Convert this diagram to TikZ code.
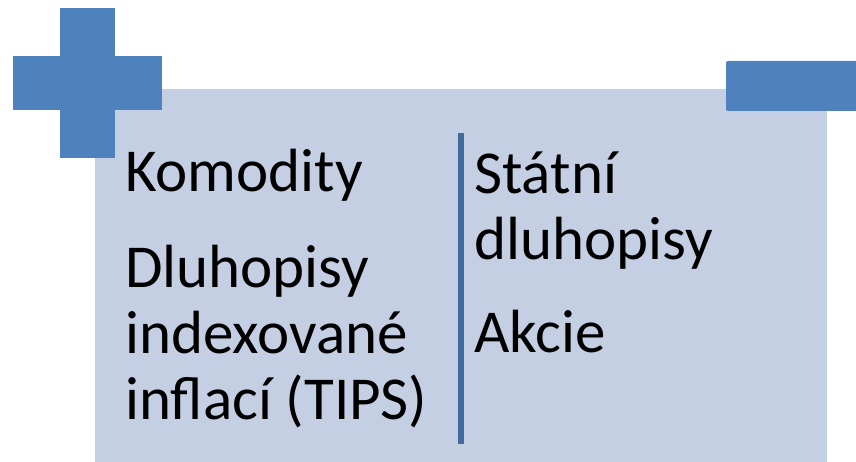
\documentclass[tikz,border=0pt]{standalone}
\usepackage{fontspec}
\setmainfont{Carlito}
\usetikzlibrary{positioning}
\definecolor{signblue}{RGB}{79,129,189}
\definecolor{panelfill}{RGB}{197,207,227}
\definecolor{dividerblue}{RGB}{65,106,158}

\begin{document}
\begin{tikzpicture}[x=1pt, y=-1pt,
        panel/.style={fill=panelfill, draw=none},
        sign/.style={fill=signblue, draw=none},
        item/.style={anchor=base west, inner sep=0pt, align=left, font=\fontsize{61}{66}\selectfont},
        divider/.style={draw=dividerblue, line width=6pt}
    ]
        \useasboundingbox (0,0) rectangle (856,462);

        % Panel
        \path[panel] (95,89) rectangle (827,462);

        % Plus and minus signs
        \path[sign] (60,8) rectangle (115,158);
        \path[sign] (13,56) rectangle (162,110);
        \path[sign, rounded corners=2pt] (726,61) rectangle (860,111);

        % Left column (base = last line)
        \node[item] (komodity) at (125,192) {Komodity};
        \node[item] (tips) at (125,419) {Dluhopisy\\indexované\\inflací (TIPS)};

        % Right column
        \node[item] (statni) at (474,259) {Státní\\dluhopisy};
        \node[item] (akcie) at (474,352) {Akcie};

        % Divider
        \coordinate (divtop) at (461,133);
        \coordinate (divbot) at (461,444);
        \draw[divider] (divtop) -- (divbot);
    \end{tikzpicture}
\end{document}
